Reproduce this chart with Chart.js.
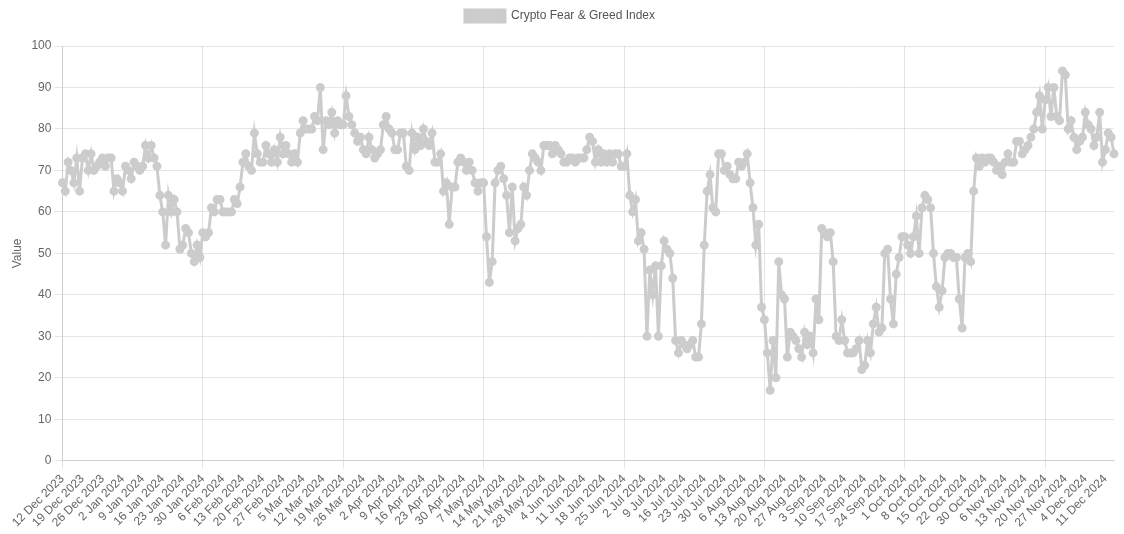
<!DOCTYPE html>
<html>
<head>
<meta charset="utf-8">
<script src="https://cdn.jsdelivr.net/npm/chart.js@4"></script>
<style>
  body { margin: 0; background: #fff; }
  #wrap { width: 1124px; height: 534px; }
</style>
</head>
<body>
<div id="wrap"><canvas id="myChart"></canvas></div>
<script>
const startDate = [2023, 11, 12];
const missingDay = [2024, 9, 23];
const monthNames = ['Jan', 'Feb', 'Mar', 'Apr', 'May', 'Jun', 'Jul', 'Aug', 'Sep', 'Oct', 'Nov', 'Dec'];

const values = [
	67, 65, 72, 70, 67, 73, 65,
	73, 74, 70, 74, 70, 71, 72,
	73, 71, 73, 73, 65, 68, 67,
	65, 71, 70, 68, 72, 71, 70,
	71, 76, 73, 76, 73, 71, 64,
	60, 52, 64, 60, 63, 60, 51,
	52, 56, 55, 50, 48, 52, 49,
	55, 54, 55, 61, 60, 63, 63,
	60, 60, 60, 60, 63, 62, 66,
	72, 74, 71, 70, 79, 74, 72,
	72, 76, 74, 72, 75, 72, 78,
	74, 76, 74, 72, 74, 72, 79,
	82, 80, 80, 80, 83, 82, 90,
	75, 82, 81, 84, 79, 82, 81,
	81, 88, 83, 81, 79, 77, 78,
	75, 74, 78, 75, 73, 74, 75,
	81, 83, 80, 79, 75, 75, 79,
	79, 71, 70, 79, 75, 78, 76,
	80, 77, 76, 79, 72, 72, 74,
	65, 67, 57, 66, 66, 72, 73,
	72, 70, 72, 70, 67, 65, 67,
	67, 54, 43, 48, 67, 70, 71,
	68, 64, 55, 66, 53, 56, 57,
	66, 64, 70, 74, 73, 72, 70,
	76, 76, 76, 74, 76, 75, 74,
	72, 72, 73, 73, 72, 73, 73,
	73, 75, 78, 77, 72, 75, 72,
	74, 72, 74, 72, 74, 74, 71,
	71, 74, 64, 60, 63, 53, 55,
	51, 30, 46, 40, 47, 30, 47,
	53, 51, 50, 44, 29, 26, 29,
	28, 27, 28, 29, 25, 25, 33,
	52, 65, 69, 61, 60, 74, 74,
	70, 71, 69, 68, 68, 72, 71,
	72, 74, 67, 61, 52, 57, 37,
	34, 26, 17, 29, 20, 48, 40,
	39, 25, 31, 30, 29, 27, 25,
	31, 28, 30, 26, 39, 34, 56,
	55, 54, 55, 48, 30, 29, 34,
	29, 26, 26, 26, 27, 29, 22,
	23, 29, 26, 33, 37, 31, 32,
	50, 51, 39, 33, 45, 49, 54,
	54, 52, 50, 54, 59, 50, 61,
	64, 63, 61, 50, 42, 37, 41,
	49, 50, 50, 49, 49, 39, 32,
	49, 50, 48, 65, 73, 71, 73,
	72, 73, 73, 72, 70, 71, 69,
	72, 74, 72, 72, 77, 77, 74,
	75, 76, 78, 80, 84, 88, 80, 87, 90, 83, 90, 83, 82, 94, 93, 80,
	82, 78, 75, 77, 78, 84, 81, 80, 76, 78, 84, 72, 75, 79, 78, 74
];

// daily labels, one day absent from the source data
const labels = [];
let day = 0;
const skip = new Date(missingDay[0], missingDay[1], missingDay[2]).getTime();
while (labels.length < values.length) {
	let d = new Date(startDate[0], startDate[1], startDate[2] + day);
	day++;
	if (d.getTime() === skip) continue;
	labels.push(d.getDate() + ' ' + monthNames[d.getMonth()] + ' ' + d.getFullYear());
}

const legendMargin = {
	id: 'legendMargin',
	beforeInit(chart) {
		const fit = chart.legend.fit;
		chart.legend.fit = function () {
			fit.bind(chart.legend)();
			this.height += 14;
		};
	}
};

const config = {
	type: 'line',
	data: {
		labels: labels,
		datasets: [{
			label: 'Crypto Fear & Greed Index',
			data: values,
			borderColor: 'rgb(204, 204, 204)',
			backgroundColor: 'rgb(204, 204, 204)',
			borderWidth: 3,
			pointRadius: 3,
			tension: 0
		}]
	},
	options: {
		responsive: true,
		maintainAspectRatio: false,
		animation: false,
		layout: { padding: { left: 6, right: 10 } },
		plugins: {
			legend: {
				labels: { color: '#555', font: { size: 12 } }
			}
		},
		scales: {
			x: {
				ticks: {
					autoSkip: false,
					maxRotation: 45,
					minRotation: 45,
					color: '#666',
					callback: function (val, idx) {
						return idx % 7 === 0 ? labels[idx] : null;
					}
				},
				grid: {
					color: function (ctx) {
						return ctx.index % 7 === 0 ? 'rgba(0,0,0,0.1)' : 'rgba(0,0,0,0)';
					}
				}
			},
			y: {
				min: 0,
				max: 100,
				ticks: { stepSize: 10, color: '#666' },
				title: { display: true, text: 'Value', color: '#666' }
			}
		}
	},
	plugins: [legendMargin]
};

new Chart(document.getElementById('myChart'), config);
</script>
</body>
</html>
